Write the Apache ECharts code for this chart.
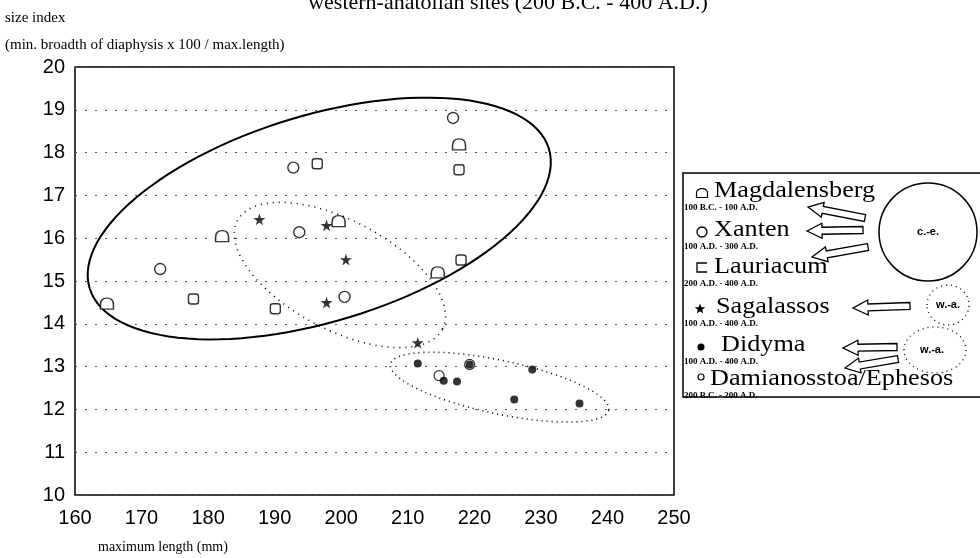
<!DOCTYPE html>
<html>
<head>
<meta charset="utf-8">
<script src="https://cdn.jsdelivr.net/npm/echarts@6/dist/echarts.min.js"></script>
<style>
  html, body { margin: 0; padding: 0; background: #fff; }
  #main { width: 980px; height: 558px; }
</style>
</head>
<body>
<div id="main"></div>
<script>
// data: [maximum length (mm), size index]
var magdalensberg = [[164.8, 14.47], [182.1, 16.05], [199.6, 16.4], [217.7, 18.19], [214.5, 15.2]];
var xanten = [[216.8, 18.81], [192.8, 17.65], [193.7, 16.14], [172.8, 15.28], [200.5, 14.63]];
var lauriacum = [[196.4, 17.74], [217.7, 17.6], [218.0, 15.49], [177.8, 14.58], [190.1, 14.35]];
var sagalassos = [[187.7, 16.44], [197.8, 16.3], [200.7, 15.5], [197.8, 14.5], [211.5, 13.56]];
var didyma = [[211.5, 13.07], [215.4, 12.67], [217.4, 12.65], [219.3, 13.05], [228.7, 12.93], [226.0, 12.23], [235.8, 12.14]];
var damianosstoa = [[214.7, 12.79], [219.3, 13.05]];

// group ellipses: centre, end of major axis, minor/major ratio
var ellipseCentres = [[196.7, 16.46], [199.8, 15.14], [223.8, 12.52]];
var ellipseMajorEnds = [[231.2, 18.09], [215.2, 13.87], [240.2, 11.98]];
var ellipseRatios = [0.43, 0.47, 0.24];

var xTicks = [160, 170, 180, 190, 200, 210, 220, 230, 240, 250];
var yTicks = [10, 11, 12, 13, 14, 15, 16, 17, 18, 19, 20];

var domePath = 'M0,100 L0,60 C0,15 25,0 50,0 C75,0 100,15 100,60 L100,100 Z';
var starPath = 'M50,0 L61,35 L98,35 L68,57 L79,91 L50,70 L21,91 L32,57 L2,35 L39,35 Z';

var hollow = { color: '#fff', borderColor: '#000', borderWidth: 1.4 };

var ellipseData = ellipseCentres.map(function (c, i) {
  return [c[0], c[1], ellipseMajorEnds[i][0], ellipseMajorEnds[i][1], ellipseRatios[i]];
});
var ellipseStyles = [
  { lineWidth: 2, lineDash: null },
  { lineWidth: 1.6, lineDash: [1, 5] },
  { lineWidth: 1.6, lineDash: [1, 4] }
];

function arrow(tx, ty, hx, hy) {
  var dx = hx - tx, dy = hy - ty;
  var len = Math.sqrt(dx * dx + dy * dy);
  var ux = dx / len, uy = dy / len, nx = -uy, ny = ux;
  var hl = 15, sw = 3.5, hw = 7.5;
  var bx = hx - ux * hl, by = hy - uy * hl;
  var pts = [
    [tx + nx * sw, ty + ny * sw],
    [bx + nx * sw, by + ny * sw],
    [bx + nx * hw, by + ny * hw],
    [hx, hy],
    [bx - nx * hw, by - ny * hw],
    [bx - nx * sw, by - ny * sw],
    [tx - nx * sw, ty - ny * sw]
  ];
  return {
    type: 'polygon', shape: { points: pts },
    style: { fill: '#fff', stroke: '#000', lineWidth: 1.3 }, z: 110
  };
}

// small legend glyphs as polygons
function domeShape(cx, cy, w, h) {
  var pts = [[cx - w / 2, cy + h / 2], [cx - w / 2, cy]];
  for (var k = 0; k <= 12; k++) {
    var t = Math.PI - k / 12 * Math.PI;
    pts.push([cx + Math.cos(t) * w / 2, cy - Math.sin(t) * h / 2]);
  }
  pts.push([cx + w / 2, cy + h / 2]);
  return { type: 'polygon', shape: { points: pts }, style: { fill: '#fff', stroke: '#000', lineWidth: 1.2 }, z: 110 };
}
function starShape(cx, cy, r) {
  var pts = [];
  for (var k = 0; k < 10; k++) {
    var rr = k % 2 ? r * 0.42 : r;
    var t = -Math.PI / 2 + k * Math.PI / 5;
    pts.push([cx + rr * Math.cos(t), cy + rr * Math.sin(t)]);
  }
  return { type: 'polygon', shape: { points: pts }, style: { fill: '#000' }, z: 110 };
}

var serif = 'Liberation Serif';

function legendEntry(sym, name, date, y, nameX) {
  return [
    sym,
    {
      type: 'text', x: nameX, y: y, scaleX: 1.14,
      style: { text: name, font: '23px ' + serif, fill: '#000', verticalAlign: 'middle' }, z: 110
    },
    {
      type: 'text', x: 684, y: y + 17,
      style: { text: date, font: 'bold 9px ' + serif, fill: '#000', verticalAlign: 'middle' }, z: 110
    }
  ];
}

var graphics = [
  {
    type: 'text', x: 508, y: 14,
    style: { text: 'western-anatolian sites (200 B.C. - 400 A.D.)', font: '22px ' + serif, fill: '#000', align: 'center', verticalAlign: 'bottom' }
  },
  {
    type: 'text', x: 5, y: 18,
    style: { text: 'size index', font: '15px ' + serif, fill: '#000', verticalAlign: 'middle' }
  },
  {
    type: 'text', x: 5, y: 45,
    style: { text: '(min. broadth of diaphysis x 100 / max.length)', font: '15px ' + serif, fill: '#000', verticalAlign: 'middle' }
  },
  {
    type: 'text', x: 98, y: 547,
    style: { text: 'maximum length (mm)', font: '14px ' + serif, fill: '#000', verticalAlign: 'middle' }
  },
  // legend box
  {
    type: 'rect', shape: { x: 683, y: 173, width: 310, height: 224 },
    style: { fill: '#fff', stroke: '#000', lineWidth: 1.5 }, z: 100
  },
  {
    type: 'circle', shape: { cx: 928, cy: 232, r: 49 },
    style: { fill: '#fff', stroke: '#000', lineWidth: 1.5 }, z: 110
  },
  {
    type: 'text', x: 928, y: 232,
    style: { text: 'c.-e.', font: 'bold 11px Liberation Sans', fill: '#000', align: 'center', verticalAlign: 'middle' }, z: 111
  },
  {
    type: 'ellipse', shape: { cx: 948, cy: 305, rx: 21, ry: 20 },
    style: { fill: 'none', stroke: '#000', lineWidth: 1.3, lineDash: [1, 4] }, z: 110
  },
  {
    type: 'text', x: 948, y: 305,
    style: { text: 'w.-a.', font: 'bold 11px Liberation Sans', fill: '#000', align: 'center', verticalAlign: 'middle' }, z: 111
  },
  {
    type: 'ellipse', shape: { cx: 935, cy: 350, rx: 31, ry: 23 },
    style: { fill: 'none', stroke: '#000', lineWidth: 1.3, lineDash: [1, 4] }, z: 110
  },
  {
    type: 'text', x: 932, y: 350,
    style: { text: 'w.-a.', font: 'bold 11px Liberation Sans', fill: '#000', align: 'center', verticalAlign: 'middle' }, z: 111
  },
  arrow(865, 218, 808, 207),
  arrow(863, 230, 807, 231),
  arrow(868, 247, 812, 257),
  arrow(910, 306, 853, 308),
  arrow(897, 347, 843, 348),
  arrow(898, 359, 845, 368)
];

graphics = graphics.concat(
  legendEntry(domeShape(702, 193, 11, 9), 'Magdalensberg', '100 B.C. - 100 A.D.', 191, 714),
  legendEntry({ type: 'circle', shape: { cx: 702, cy: 232, r: 5 }, style: { fill: '#fff', stroke: '#000', lineWidth: 1.3 }, z: 110 },
    'Xanten', '100 A.D. - 300 A.D.', 230, 714),
  legendEntry({ type: 'polyline', shape: { points: [[707, 263], [697, 263], [697, 272], [707, 272]] }, style: { fill: 'none', stroke: '#000', lineWidth: 1.3 }, z: 110 },
    'Lauriacum', '200 A.D. - 400 A.D.', 267, 714),
  legendEntry(starShape(700, 309, 5.5), 'Sagalassos', '100 A.D. - 400 A.D.', 307, 716),
  legendEntry({ type: 'circle', shape: { cx: 701, cy: 347, r: 3.5 }, style: { fill: '#000' }, z: 110 },
    'Didyma', '100 A.D. - 400 A.D.', 345, 721),
  legendEntry({ type: 'circle', shape: { cx: 701, cy: 377, r: 3 }, style: { fill: '#fff', stroke: '#000', lineWidth: 1.2 }, z: 110 },
    'Damianosstoa/Ephesos', '200 B.C. - 200 A.D.', 379, 710)
);

var myChart = echarts.init(document.getElementById('main'));

var option = {
  backgroundColor: '#fff',
  animation: false,
  grid: {
    left: 75, top: 67, right: 306, bottom: 63,
    show: true, borderColor: '#000', borderWidth: 1.5, backgroundColor: 'transparent'
  },
  xAxis: {
    type: 'value', min: xTicks[0], max: xTicks[xTicks.length - 1], interval: 10,
    axisLine: { show: false }, axisTick: { show: false }, splitLine: { show: false },
    axisLabel: { color: '#000', fontSize: 20, fontFamily: 'Liberation Sans', margin: 13 }
  },
  yAxis: {
    type: 'value', min: yTicks[0], max: yTicks[yTicks.length - 1], interval: 1,
    axisLine: { show: false }, axisTick: { show: false },
    splitLine: { show: true, lineStyle: { color: '#555', width: 1, type: [2, 8] } },
    axisLabel: { color: '#000', fontSize: 20, fontFamily: 'Liberation Sans', margin: 10 }
  },
  series: [
    {
      type: 'custom', name: 'groups', silent: true, clip: false, z: 1,
      data: ellipseData,
      encode: { x: 0, y: 1 },
      renderItem: function (params, api) {
        var c = api.coord([api.value(0), api.value(1)]);
        var e = api.coord([api.value(2), api.value(3)]);
        var dx = e[0] - c[0], dy = e[1] - c[1];
        var a = Math.sqrt(dx * dx + dy * dy);
        var b = a * api.value(4);
        var ang = Math.atan2(dy, dx);
        var pts = [];
        for (var k = 0; k < 120; k++) {
          var t = k / 120 * Math.PI * 2;
          var px = a * Math.cos(t), py = b * Math.sin(t);
          pts.push([c[0] + px * Math.cos(ang) - py * Math.sin(ang), c[1] + px * Math.sin(ang) + py * Math.cos(ang)]);
        }
        var st = ellipseStyles[params.dataIndex];
        return {
          type: 'polygon', shape: { points: pts },
          style: { fill: 'none', stroke: '#000', lineWidth: st.lineWidth, lineDash: st.lineDash }
        };
      }
    },
    { name: 'Magdalensberg', type: 'scatter', data: magdalensberg, symbol: 'path://' + domePath, symbolSize: [13, 11], itemStyle: hollow, z: 3 },
    { name: 'Xanten', type: 'scatter', data: xanten, symbol: 'circle', symbolSize: 11, itemStyle: hollow, z: 3 },
    { name: 'Lauriacum', type: 'scatter', data: lauriacum, symbol: 'roundRect', symbolSize: 10, itemStyle: hollow, z: 3 },
    { name: 'Sagalassos', type: 'scatter', data: sagalassos, symbol: 'path://' + starPath, symbolSize: 12, itemStyle: { color: '#000' }, z: 3 },
    { name: 'Didyma', type: 'scatter', data: didyma, symbol: 'circle', symbolSize: 8, itemStyle: { color: '#000' }, z: 3 },
    { name: 'Damianosstoa/Ephesos', type: 'scatter', data: damianosstoa, symbol: 'circle', symbolSize: 10, itemStyle: { color: 'transparent', borderColor: '#000', borderWidth: 1.2 }, z: 4 }
  ],
  graphic: graphics
};

myChart.setOption(option);
</script>
</body>
</html>
